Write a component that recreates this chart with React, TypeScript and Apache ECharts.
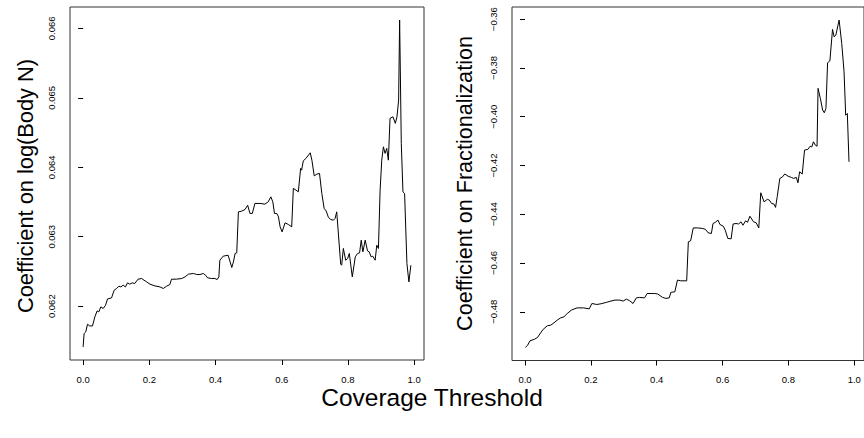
import React, { useEffect, useRef } from "react";
import * as echarts from "echarts";

// Left panel: coefficient on log(Body N) vs coverage threshold
const bodyX = [0, 0.003, 0.008, 0.0133, 0.02, 0.0284, 0.0354, 0.0423, 0.0475, 0.0535, 0.0605, 0.0677, 0.0738, 0.0859, 0.0937, 0.101, 0.108, 0.114, 0.121, 0.128, 0.134, 0.141, 0.148, 0.156, 0.166, 0.177, 0.184, 0.192, 0.202, 0.217, 0.232, 0.242, 0.252, 0.262, 0.267, 0.282, 0.298, 0.308, 0.318, 0.333, 0.343, 0.353, 0.363, 0.37, 0.376, 0.388, 0.398, 0.405, 0.41, 0.413, 0.423, 0.438, 0.449, 0.454, 0.459, 0.464, 0.469, 0.479, 0.489, 0.497, 0.504, 0.511, 0.519, 0.534, 0.549, 0.559, 0.567, 0.573, 0.578, 0.585, 0.59, 0.595, 0.601, 0.61, 0.62, 0.63, 0.635, 0.643, 0.65, 0.657, 0.66, 0.665, 0.673, 0.686, 0.691, 0.698, 0.706, 0.714, 0.721, 0.728, 0.734, 0.741, 0.748, 0.756, 0.761, 0.766, 0.778, 0.781, 0.786, 0.793, 0.799, 0.804, 0.813, 0.822, 0.829, 0.835, 0.84, 0.845, 0.852, 0.859, 0.864, 0.87, 0.875, 0.882, 0.887, 0.892, 0.897, 0.902, 0.907, 0.912, 0.917, 0.922, 0.927, 0.936, 0.943, 0.948, 0.953, 0.956, 0.961, 0.966, 0.971, 0.978, 0.984, 0.99];
const bodyY = [0.061414, 0.061607, 0.06163, 0.061741, 0.061716, 0.061716, 0.061846, 0.061932, 0.061918, 0.06199, 0.061967, 0.062014, 0.062105, 0.06212, 0.06223, 0.062255, 0.062288, 0.062278, 0.062302, 0.062278, 0.062336, 0.062317, 0.062336, 0.062327, 0.062389, 0.062399, 0.062374, 0.06235, 0.062317, 0.062292, 0.062278, 0.062255, 0.062288, 0.062312, 0.062389, 0.062389, 0.062399, 0.062422, 0.062461, 0.062471, 0.062456, 0.062456, 0.062471, 0.062446, 0.062408, 0.062399, 0.062399, 0.062384, 0.062422, 0.062662, 0.06272, 0.062734, 0.062557, 0.062638, 0.062759, 0.062768, 0.063358, 0.063368, 0.063392, 0.063454, 0.063335, 0.063335, 0.063479, 0.063479, 0.063469, 0.063502, 0.063574, 0.063502, 0.063335, 0.063335, 0.063286, 0.063142, 0.06307, 0.0632, 0.063176, 0.063142, 0.063695, 0.06367, 0.063646, 0.063983, 0.063958, 0.064092, 0.064127, 0.064208, 0.064102, 0.063876, 0.063901, 0.063911, 0.063623, 0.063407, 0.063372, 0.063277, 0.063248, 0.063238, 0.063263, 0.063358, 0.062605, 0.06259, 0.062831, 0.062662, 0.062687, 0.062759, 0.062422, 0.06271, 0.062759, 0.062768, 0.06295, 0.062782, 0.06295, 0.062796, 0.062782, 0.06271, 0.06272, 0.062662, 0.062878, 0.062831, 0.06367, 0.064102, 0.064294, 0.064199, 0.064271, 0.064102, 0.064703, 0.064726, 0.064631, 0.064726, 0.064966, 0.066118, 0.064343, 0.063646, 0.063623, 0.062615, 0.06235, 0.06259];

// Right panel: coefficient on Fractionalization vs coverage threshold
const fracX = [0.001, 0.008, 0.015, 0.028, 0.038, 0.045, 0.055, 0.068, 0.078, 0.088, 0.098, 0.108, 0.118, 0.128, 0.141, 0.158, 0.178, 0.195, 0.203, 0.218, 0.231, 0.248, 0.258, 0.273, 0.288, 0.298, 0.308, 0.318, 0.328, 0.338, 0.348, 0.363, 0.371, 0.383, 0.394, 0.403, 0.418, 0.428, 0.438, 0.443, 0.455, 0.463, 0.473, 0.491, 0.496, 0.503, 0.511, 0.523, 0.538, 0.548, 0.556, 0.566, 0.571, 0.578, 0.586, 0.592, 0.602, 0.608, 0.616, 0.626, 0.632, 0.641, 0.649, 0.656, 0.662, 0.67, 0.676, 0.683, 0.694, 0.702, 0.71, 0.716, 0.726, 0.736, 0.742, 0.749, 0.756, 0.761, 0.766, 0.774, 0.782, 0.789, 0.799, 0.809, 0.816, 0.824, 0.829, 0.834, 0.842, 0.849, 0.859, 0.866, 0.871, 0.876, 0.882, 0.887, 0.89, 0.897, 0.904, 0.909, 0.914, 0.919, 0.926, 0.934, 0.939, 0.944, 0.954, 0.962, 0.969, 0.974, 0.979, 0.984];
const fracY = [-0.4946, -0.4937, -0.4919, -0.4913, -0.4905, -0.4891, -0.4872, -0.4857, -0.4855, -0.4845, -0.4834, -0.4825, -0.4821, -0.4807, -0.4793, -0.4784, -0.4784, -0.4788, -0.4766, -0.477, -0.4767, -0.4761, -0.4757, -0.4752, -0.4752, -0.4756, -0.4748, -0.4755, -0.4766, -0.4743, -0.4741, -0.4743, -0.4725, -0.4725, -0.4725, -0.4727, -0.4741, -0.4745, -0.4743, -0.472, -0.4718, -0.467, -0.4673, -0.4673, -0.4513, -0.4509, -0.4456, -0.4456, -0.4458, -0.4462, -0.4476, -0.4479, -0.4438, -0.4433, -0.4424, -0.4442, -0.4449, -0.4465, -0.4499, -0.4501, -0.444, -0.4438, -0.444, -0.4431, -0.4445, -0.4427, -0.4433, -0.4408, -0.4431, -0.4435, -0.4456, -0.4312, -0.4349, -0.4339, -0.4342, -0.4356, -0.4358, -0.4372, -0.4328, -0.4253, -0.4247, -0.4235, -0.4244, -0.4249, -0.4253, -0.4249, -0.4271, -0.4226, -0.4235, -0.4137, -0.4134, -0.4121, -0.4124, -0.4103, -0.4117, -0.4121, -0.3884, -0.3925, -0.3973, -0.3984, -0.3966, -0.3779, -0.3771, -0.3642, -0.3673, -0.3666, -0.3604, -0.37, -0.3816, -0.3994, -0.3987, -0.4185];

const xTicks = [0, 0.2, 0.4, 0.6, 0.8, 1.0];
const bodyTicks = [0.062, 0.063, 0.064, 0.065, 0.066];
const fracTicks = [-0.48, -0.46, -0.44, -0.42, -0.4, -0.38, -0.36];
const xDataRange = [0, 0.99];

const FONT = "'Liberation Sans', Arial, Helvetica, sans-serif";

function padRange(lo: number, hi: number): [number, number] {
  const e = (hi - lo) * 0.04;
  return [lo - e, hi + e];
}

export default function App() {
  const ref = useRef<HTMLDivElement>(null);
  useEffect(() => {
    if (!ref.current) return;
    const chart = echarts.init(ref.current, undefined, { renderer: "svg" });
    const xr = padRange(xDataRange[0], xDataRange[1]);
    const yr1 = padRange(Math.min(...bodyY), Math.max(...bodyY));
    const yr2 = padRange(Math.min(...fracY), Math.max(...fracY));
    const fmtX = (v: number) => v.toFixed(1);
    const fmtY = (d: number) => (v: number) => (v < 0 ? "\u2212" : "") + Math.abs(v).toFixed(d);
    const xAxisCommon = (gi: number) => ({
      type: "value" as const,
      gridIndex: gi,
      min: xr[0],
      max: xr[1],
      axisLine: { show: false },
      splitLine: { show: false },
      axisTick: { show: true, customValues: xTicks, length: 5, lineStyle: { color: "#000", width: 1 } },
      axisLabel: { customValues: xTicks, formatter: fmtX, fontFamily: FONT, fontSize: 9.5, color: "#000", margin: 14 },
    });
    const yAxisCommon = (gi: number, r: [number, number], ticks: number[], dec: number) => ({
      type: "value" as const,
      gridIndex: gi,
      min: r[0],
      max: r[1],
      axisLine: { show: false },
      splitLine: { show: false },
      axisTick: { show: true, customValues: ticks, length: 5, lineStyle: { color: "#000", width: 1 } },
      axisLabel: { customValues: ticks, formatter: fmtY(dec), fontFamily: FONT, fontSize: 9.5, color: "#000", rotate: 90, margin: 14 },
    });
    chart.setOption({
      animation: false,
      backgroundColor: "#fff",
      grid: [
        { left: 70, top: 7, width: 354, height: 353, show: true, borderColor: "#333", borderWidth: 1, backgroundColor: "transparent" },
        { left: 512, top: 7, width: 357, height: 353.5, show: true, borderColor: "#333", borderWidth: 1, backgroundColor: "transparent" },
      ],
      xAxis: [xAxisCommon(0), xAxisCommon(1)],
      yAxis: [yAxisCommon(0, yr1, bodyTicks, 3), yAxisCommon(1, yr2, fracTicks, 2)],
      series: [
        {
          type: "line",
          xAxisIndex: 0,
          yAxisIndex: 0,
          data: bodyX.map((x, i) => [x, bodyY[i]]),
          showSymbol: false,
          lineStyle: { color: "#000", width: 1 },
        },
        {
          type: "line",
          xAxisIndex: 1,
          yAxisIndex: 1,
          data: fracX.map((x, i) => [x, fracY[i]]),
          showSymbol: false,
          lineStyle: { color: "#000", width: 1 },
        },
      ],
      graphic: [
        {
          type: "text",
          x: 25,
          y: 186,
          rotation: Math.PI / 2,
          style: { text: "Coefficient on log(Body N)", font: `21.8px ${FONT}`, fill: "#000", align: "center", verticalAlign: "middle" },
        },
        {
          type: "text",
          x: 464,
          y: 183.5,
          rotation: Math.PI / 2,
          style: { text: "Coefficient on Fractionalization", font: `21.6px ${FONT}`, fill: "#000", align: "center", verticalAlign: "middle" },
        },
        {
          type: "text",
          x: 432,
          y: 397.5,
          style: { text: "Coverage Threshold", font: `24.5px ${FONT}`, fill: "#000", align: "center", verticalAlign: "middle" },
        },
      ],
    });
    return () => chart.dispose();
  }, []);
  return <div ref={ref} style={{ position: "absolute", left: 0, top: 0, width: 864, height: 438 }} />;
}
